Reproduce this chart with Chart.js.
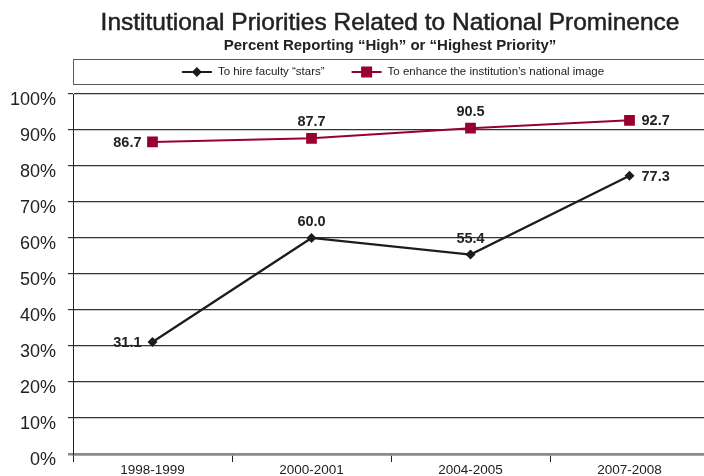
<!DOCTYPE html>
<html>
<head>
<meta charset="utf-8">
<script src="https://cdn.jsdelivr.net/npm/chart.js@4"></script>
<style>
  html, body { margin: 0; padding: 0; background: #ffffff; overflow: hidden; width: 704px; height: 476px; }
  canvas { display: block; }
</style>
</head>
<body>
<canvas id="c" width="709" height="476"></canvas>
<script>
// ---- data ----
const categories = ['1998-1999', '2000-2001', '2004-2005', '2007-2008'];
const hireStars = [31.1, 60.0, 55.4, 77.3];
const nationalImage = [86.7, 87.7, 90.5, 92.7];
const seriesNames = ['To hire faculty \u201Cstars\u201D', 'To enhance the institution\u2019s national image'];
const yMin = 0, yMax = 100, yStep = 10;
const titleText = 'Institutional Priorities Related to National Prominence';
const subtitleText = 'Percent Reporting \u201CHigh\u201D or \u201CHighest Priority\u201D';

// ---- styles ----
const FONT = "'Liberation Sans', Arial, Helvetica, sans-serif";
const BLACK = '#1c1c1c';
const RED = '#990030';
const TEXT = '#222222';
const labelPlacement = [
  ['left', 'above', 'above', 'right'],
  ['left', 'above', 'above', 'right']
];

const chromePlugin = {
  id: 'chrome',
  afterDraw(chart) {
    const ctx = chart.ctx;
    const cx = 390;
    ctx.save();
    // title
    ctx.fillStyle = TEXT;
    ctx.strokeStyle = TEXT;
    ctx.textAlign = 'center';
    ctx.textBaseline = 'alphabetic';
    ctx.font = '24.5px ' + FONT;
    ctx.fillText(titleText, cx, 29.5);
    ctx.lineWidth = 0.5;
    ctx.strokeText(titleText, cx, 29.5);
    ctx.font = 'bold 15px ' + FONT;
    ctx.fillText(subtitleText, cx, 50);

    // legend box
    ctx.strokeStyle = '#5a5a5a';
    ctx.lineWidth = 1;
    ctx.strokeRect(73.5, 59.5, 700, 25);

    // legend items
    ctx.font = '11.5px ' + FONT;
    ctx.textAlign = 'left';
    ctx.textBaseline = 'middle';
    const ly = 72;
    const lineW = 30, gap = 6, between = 27;
    const w0 = ctx.measureText(seriesNames[0]).width;
    const w1 = ctx.measureText(seriesNames[1]).width;
    const total = lineW + gap + w0 + between + lineW + gap + w1;
    let x = 393 - total / 2;
    // item 1: black line + diamond
    ctx.strokeStyle = BLACK; ctx.lineWidth = 2;
    ctx.beginPath(); ctx.moveTo(x, ly); ctx.lineTo(x + lineW, ly); ctx.stroke();
    const dx = x + lineW / 2, r = 5;
    ctx.fillStyle = BLACK;
    ctx.beginPath(); ctx.moveTo(dx, ly - r); ctx.lineTo(dx + r, ly); ctx.lineTo(dx, ly + r); ctx.lineTo(dx - r, ly); ctx.closePath(); ctx.fill();
    x += lineW + gap;
    ctx.fillStyle = TEXT;
    ctx.fillText(seriesNames[0], x, ly);
    x += w0 + between;
    // item 2: red line + square
    ctx.strokeStyle = RED; ctx.lineWidth = 2;
    ctx.beginPath(); ctx.moveTo(x, ly); ctx.lineTo(x + lineW, ly); ctx.stroke();
    ctx.fillStyle = RED;
    ctx.fillRect(x + lineW / 2 - 5.5, ly - 5.5, 11, 11);
    x += lineW + gap;
    ctx.fillStyle = TEXT;
    ctx.fillText(seriesNames[1], x, ly);

    // data labels
    ctx.font = 'bold 14.5px ' + FONT;
    ctx.fillStyle = TEXT;
    chart.data.datasets.forEach((ds, di) => {
      const meta = chart.getDatasetMeta(di);
      meta.data.forEach((pt, i) => {
        const txt = ds.data[i].toFixed(1);
        const pos = labelPlacement[di][i];
        if (pos === 'left') {
          ctx.textAlign = 'right'; ctx.textBaseline = 'middle';
          ctx.fillText(txt, pt.x - 11, pt.y + 1);
        } else if (pos === 'right') {
          ctx.textAlign = 'left'; ctx.textBaseline = 'middle';
          ctx.fillText(txt, pt.x + 12, pt.y + 1);
        } else {
          ctx.textAlign = 'center'; ctx.textBaseline = 'middle';
          ctx.fillText(txt, pt.x, pt.y - 16);
        }
      });
    });
    ctx.restore();
  }
};

const bgPlugin = {
  id: 'bg',
  beforeDraw(chart) {
    const ctx = chart.ctx;
    ctx.save();
    ctx.fillStyle = '#ffffff';
    ctx.fillRect(0, 0, chart.width, chart.height);
    ctx.restore();
  }
};

new Chart(document.getElementById('c'), {
  type: 'line',
  data: {
    labels: categories,
    datasets: [
      {
        label: seriesNames[0],
        data: hireStars,
        borderColor: BLACK,
        backgroundColor: BLACK,
        borderWidth: 2.2,
        pointStyle: 'rectRot',
        pointRadius: 5,
        pointHoverRadius: 5,
        pointBorderWidth: 0,
        tension: 0
      },
      {
        label: seriesNames[1],
        data: nationalImage,
        borderColor: RED,
        backgroundColor: RED,
        borderWidth: 2,
        pointStyle: 'rect',
        pointRadius: 7.6,
        pointHoverRadius: 7.6,
        pointBorderWidth: 0,
        tension: 0
      }
    ]
  },
  options: {
    responsive: false,
    animation: false,
    devicePixelRatio: 1,
    layout: { autoPadding: false, padding: { top: 94, left: 0, right: 0, bottom: 0 } },
    plugins: {
      legend: { display: false },
      title: { display: false },
      tooltip: { enabled: false }
    },
    scales: {
      x: {
        type: 'category',
        offset: true,
        afterFit(scale) { scale.height = 22; scale.paddingLeft = 0; scale.paddingRight = 0; },
        grid: {
          offset: true,
          drawOnChartArea: false,
          drawTicks: true,
          tickLength: 8,
          color: '#222',
          lineWidth: 1
        },
        border: { display: true, color: '#8a8a8a', width: 2.5 },
        ticks: {
          color: TEXT,
          font: { family: FONT, size: 13.5 },
          padding: 0,
          maxRotation: 0
        }
      },
      y: {
        min: yMin,
        max: yMax,
        afterFit(scale) { scale.width = 73; scale.paddingTop = 0; scale.paddingBottom = 0; },
        grid: {
          drawTicks: true,
          tickLength: 5,
          color: (c) => (c.tick && c.tick.value === 0) ? '#8a8a8a' : '#333333',
          lineWidth: (c) => (c.tick && c.tick.value === 0) ? 2.5 : 1.2
        },
        border: { display: true, color: '#222', width: 1 },
        ticks: {
          stepSize: yStep,
          color: TEXT,
          font: { family: FONT, size: 18 },
          padding: 12,
          labelOffset: 6,
          callback: (v) => v + '%'
        }
      }
    }
  },
  plugins: [bgPlugin, chromePlugin]
});
</script>
</body>
</html>
